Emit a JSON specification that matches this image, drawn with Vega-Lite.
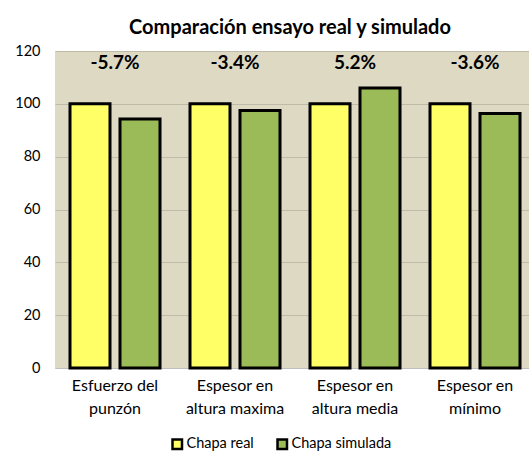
{
  "$schema": "https://vega.github.io/schema/vega-lite/v6.json",
  "autosize": {"type": "none"},
  "padding": {"left": 55, "top": 51, "right": 0, "bottom": 83},
  "width": 480,
  "height": 317,
  "background": "white",
  "title": {
    "text": "Comparación ensayo real y simulado",
    "font": "Lato",
    "fontSize": 20,
    "fontWeight": "bold",
    "color": "#000000",
    "anchor": "middle",
    "dx": -5,
    "offset": 5
  },
  "config": {
    "view": {"fill": "#DDD9C3", "stroke": null},
    "font": "Lato",
    "axis": {"labelFont": "Lato", "labelColor": "#000000"}
  },
  "datasets": {
    "bars": [
      {"categoria": "Esfuerzo del punzón", "serie": "Chapa real", "valor": 100},
      {"categoria": "Esfuerzo del punzón", "serie": "Chapa simulada", "valor": 94.3},
      {"categoria": "Espesor en altura maxima", "serie": "Chapa real", "valor": 100},
      {"categoria": "Espesor en altura maxima", "serie": "Chapa simulada", "valor": 97.5},
      {"categoria": "Espesor en altura media", "serie": "Chapa real", "valor": 100},
      {"categoria": "Espesor en altura media", "serie": "Chapa simulada", "valor": 106},
      {"categoria": "Espesor en mínimo", "serie": "Chapa real", "valor": 100},
      {"categoria": "Espesor en mínimo", "serie": "Chapa simulada", "valor": 96.3}
    ],
    "etiquetas": [
      {"categoria": "Esfuerzo del punzón", "etiqueta": "-5.7%", "pos": 115.5},
      {"categoria": "Espesor en altura maxima", "etiqueta": "-3.4%", "pos": 115.5},
      {"categoria": "Espesor en altura media", "etiqueta": "5.2%", "pos": 115.5},
      {"categoria": "Espesor en mínimo", "etiqueta": "-3.6%", "pos": 115.5}
    ]
  },
  "layer": [
    {
      "data": {"name": "bars"},
      "mark": {"type": "bar", "stroke": "#000000", "strokeWidth": 3, "strokeJoin": "miter"},
      "encoding": {
        "x": {
          "field": "categoria",
          "type": "nominal",
          "sort": null,
          "scale": {"paddingInner": 0, "paddingOuter": 0},
          "axis": {
            "title": null,
            "labelAngle": 0,
            "labelFontSize": 16,
            "labelPadding": 9,
            "labelLineHeight": 23,
            "labelBaseline": "top",
            "ticks": false,
            "domain": true,
            "domainColor": "#BFBFBF",
            "domainWidth": 1,
            "labelExpr": "[join(slice(split(datum.label,' '),0,2),' '), join(slice(split(datum.label,' '),2),' ')]"
          }
        },
        "xOffset": {
          "field": "serie",
          "type": "nominal",
          "sort": ["Chapa real", "Chapa simulada"],
          "scale": {"paddingInner": 0.2, "paddingOuter": 0.3}
        },
        "y": {
          "field": "valor",
          "type": "quantitative",
          "scale": {"domain": [0, 120], "nice": false},
          "axis": {
            "title": null,
            "values": [0, 20, 40, 60, 80, 100, 120],
            "labelFontSize": 14.5,
            "labelPadding": 15,
            "ticks": false,
            "domain": false,
            "grid": true,
            "gridColor": "#BFBBA8",
            "gridWidth": 1
          }
        },
        "color": {
          "field": "serie",
          "type": "nominal",
          "scale": {"domain": ["Chapa real", "Chapa simulada"], "range": ["#FFFF66", "#9BBB59"]},
          "legend": {
            "title": null,
            "orient": "none",
            "direction": "horizontal",
            "legendX": 115,
            "legendY": 386,
            "symbolType": "square",
            "symbolSize": 90,
            "symbolStrokeColor": "#000000",
            "symbolStrokeWidth": 2.5,
            "symbolOpacity": 1,
            "labelFontSize": 14.5,
            "labelFont": "Lato",
            "labelColor": "#000000",
            "labelOffset": 2,
            "columnPadding": 18
          }
        }
      }
    },
    {
      "data": {"name": "etiquetas"},
      "mark": {"type": "text", "fontSize": 19, "fontWeight": "bold", "font": "Lato", "color": "#000000", "baseline": "middle"},
      "encoding": {
        "x": {"field": "categoria", "type": "nominal", "sort": null},
        "y": {"field": "pos", "type": "quantitative"},
        "text": {"field": "etiqueta"}
      }
    }
  ]
}
